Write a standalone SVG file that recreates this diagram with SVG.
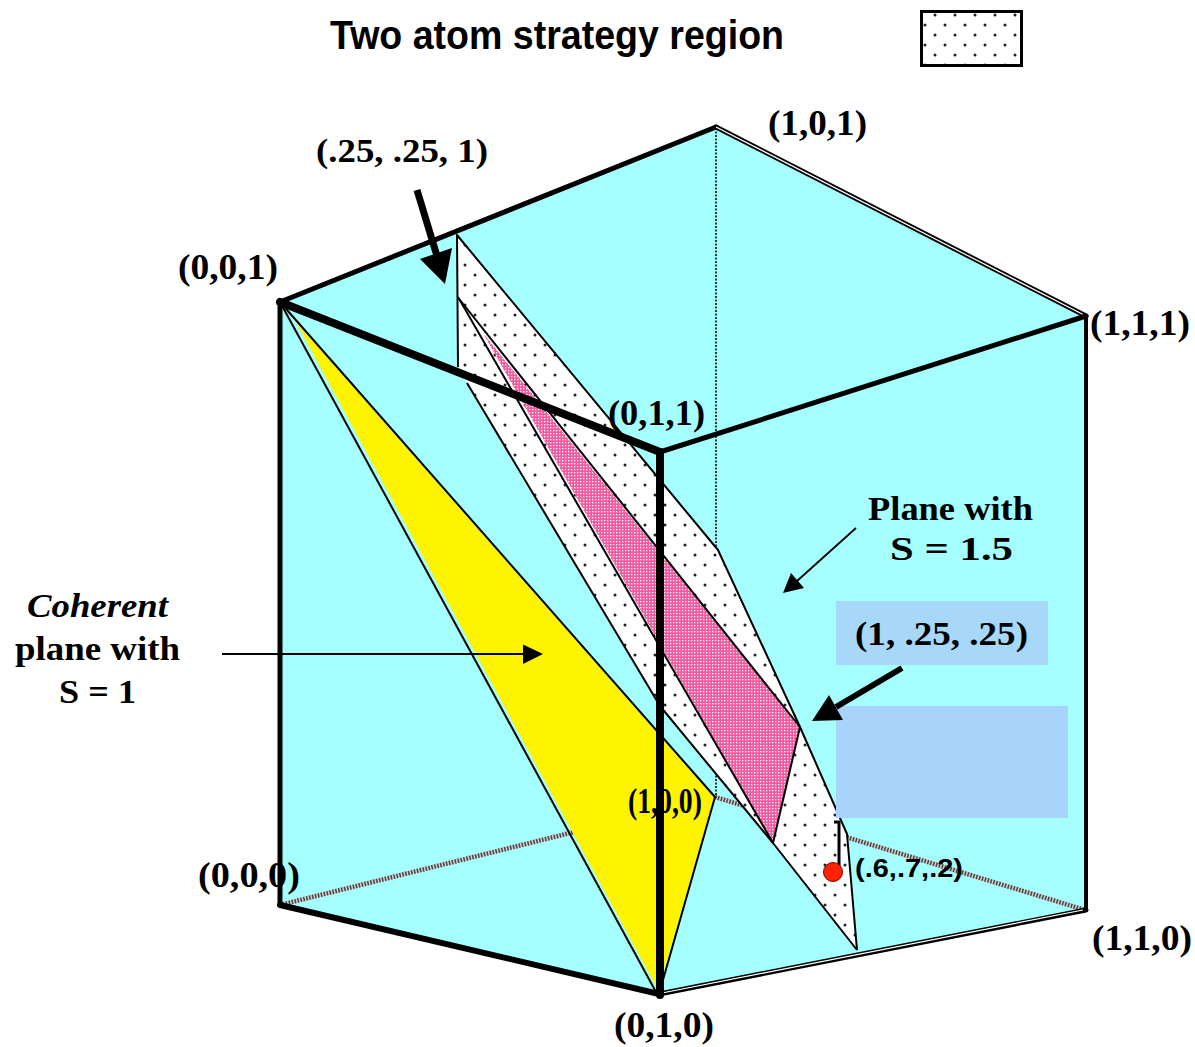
<svg xmlns="http://www.w3.org/2000/svg" width="1195" height="1047" viewBox="0 0 1195 1047">
<defs>
<pattern id="dots" width="20" height="20" patternUnits="userSpaceOnUse">
<rect width="20" height="20" fill="#fff"/>
<circle cx="5" cy="5" r="1.5" fill="#222"/>
<circle cx="15" cy="15" r="1.5" fill="#222"/>
</pattern>
<pattern id="pinkdots" width="3" height="3" patternUnits="userSpaceOnUse">
<rect width="3" height="3" fill="#F2599F"/>
<rect x="1" y="1" width="1.3" height="1.3" fill="#fff"/>
</pattern>
<style>
.thin{stroke:#000;stroke-width:2;fill:none;stroke-linejoin:round}
.edge{stroke:#000;fill:none;stroke-linecap:round}
.hidA{stroke:#d0d0d0;stroke-width:4.5;fill:none}
.hidB{stroke:#444;stroke-width:4.5;stroke-dasharray:1.5 1.5;fill:none}
.coord{font-family:"Liberation Serif","Times New Roman",serif;font-weight:bold;font-size:36px;fill:#000}
.lab{font-family:"Liberation Serif","Times New Roman",serif;font-weight:bold;font-size:33px;fill:#000}
.arrowT{stroke:#000;fill:none}
</style>
</defs>
<rect width="1195" height="1047" fill="#fff"/>

<g id="legend">
<text x="330" y="49" font-family="Liberation Sans, Arial, sans-serif" font-weight="bold" font-size="41" textLength="454" lengthAdjust="spacingAndGlyphs">Two atom strategy region</text>
<rect x="921.5" y="11.5" width="100" height="54" fill="url(#dots)" stroke="#000" stroke-width="3"/>
</g>

<g id="cube-faces">
<polygon points="280,302 716,127 1086,316 1086,910 659,994 280,905" fill="#A5FFFF"/>
</g>

<g id="hidden-edges">
<line class="hidA" x1="280" y1="905" x2="715" y2="797"/>
<line class="hidB" x1="280" y1="905" x2="715" y2="797"/>
<line class="hidA" x1="715" y1="797" x2="1085" y2="910"/>
<line class="hidB" x1="715" y1="797" x2="1085" y2="910"/>
<line x1="716" y1="128" x2="716" y2="798" stroke="#222" stroke-width="1.8" stroke-dasharray="2 1.5"/>
</g>

<g id="coherent-plane">
<polygon points="293,317 715,797 658,990" fill="#FFF400"/>
<line class="thin" x1="280" y1="302" x2="656" y2="992"/>
<line class="thin" x1="280" y1="302" x2="715" y2="797"/>
<line class="thin" x1="715" y1="797" x2="659" y2="994"/>
</g>

<g id="two-atom-region">
<polygon points="457,235 718,550 800,727 847,834 857,950 773,843 660,706 467,383 458,367" fill="url(#dots)"/>
<polygon points="483,333 800,727 773,843" fill="url(#pinkdots)"/>
<polyline class="thin" points="458,367 457,235 718,550 800,727 847,834 857,950"/>
<polyline class="thin" points="467,383 660,706 773,843 857,950"/>
<line class="thin" x1="458" y1="297" x2="773" y2="843"/>
<line class="thin" x1="460" y1="300" x2="800" y2="727"/>
<line class="thin" x1="800" y1="727" x2="773" y2="843"/>
</g>

<g id="label-100">
<text x="628" y="813" class="coord" font-size="28" textLength="74" lengthAdjust="spacingAndGlyphs">(1,0,0)</text>
</g>

<g id="cube-edges">
<line class="edge" x1="280" y1="302" x2="716" y2="127" stroke-width="5"/>
<line class="edge" x1="716" y1="127" x2="1086" y2="316" stroke-width="5"/>
<line x1="716" y1="127" x2="1086" y2="316" stroke="#fff" stroke-width="1.2"/>
<line class="edge" x1="1086" y1="316" x2="660" y2="452" stroke-width="5"/>
<line class="edge" x1="1086" y1="316" x2="1086" y2="910" stroke-width="4"/>
<line class="edge" x1="280" y1="302" x2="280" y2="905" stroke-width="5"/>
<line class="edge" x1="280" y1="905" x2="659" y2="994" stroke-width="6"/>
<line class="edge" x1="659" y1="994" x2="1086" y2="910" stroke-width="5"/>
<line x1="662" y1="993" x2="1083" y2="910" stroke="#fff" stroke-width="1.2"/>
<line class="edge" x1="280" y1="302" x2="660" y2="452" stroke-width="8"/>
<line class="edge" x1="660" y1="452" x2="660" y2="995" stroke-width="8"/>
</g>

<g id="boxes">
<rect x="836" y="601" width="212" height="64" fill="#A8D8F9"/>
<rect x="836" y="706" width="232" height="112" fill="#A8D4FB"/>
</g>

<g id="point">
<polyline points="834,822 839,822 839,866" fill="none" stroke="#000" stroke-width="3"/>
<circle cx="833" cy="872" r="9.5" fill="#FF2200" stroke="#7a0000" stroke-width="1"/>
<text x="855" y="877" font-family="Liberation Sans, Arial, sans-serif" font-weight="bold" font-size="26" textLength="108" lengthAdjust="spacingAndGlyphs">(.6,.7,.2)</text>
</g>

<g id="connectors">
<line x1="417" y1="190" x2="437" y2="256" stroke="#000" stroke-width="7"/>
<polygon points="420,259 452,248 445,284" fill="#000"/>
<line x1="902" y1="668" x2="836" y2="707" stroke="#000" stroke-width="6"/>
<polygon points="843,720 829,695 812,721" fill="#000"/>
<line class="arrowT" x1="856" y1="528" x2="797" y2="581" stroke-width="1.8"/>
<polygon points="804,588 791,573 783,593" fill="#000"/>
<line class="arrowT" x1="222" y1="654" x2="526" y2="654" stroke-width="1.8"/>
<polygon points="543,654 523,644.5 523,664" fill="#000"/>
</g>

<g id="labels">
<text x="316" y="162" class="lab" font-size="34" textLength="172" lengthAdjust="spacingAndGlyphs">(.25, .25, 1)</text>
<text x="768" y="135" class="coord" textLength="99" lengthAdjust="spacingAndGlyphs">(1,0,1)</text>
<text x="178" y="279" class="coord" textLength="100" lengthAdjust="spacingAndGlyphs">(0,0,1)</text>
<text x="1090" y="335" class="coord" textLength="100" lengthAdjust="spacingAndGlyphs">(1,1,1)</text>
<text x="608" y="425" class="coord" textLength="97" lengthAdjust="spacingAndGlyphs">(0,1,1)</text>
<text x="868" y="520" class="lab" textLength="165" lengthAdjust="spacingAndGlyphs">Plane with</text>
<text x="890" y="560" class="lab" textLength="123" lengthAdjust="spacingAndGlyphs">S = 1.5</text>
<text x="855" y="645" class="lab" textLength="173" lengthAdjust="spacingAndGlyphs">(1, .25, .25)</text>
<text x="27" y="617" class="lab" font-style="italic" textLength="141" lengthAdjust="spacingAndGlyphs">Coherent</text>
<text x="15" y="660" class="lab" textLength="165" lengthAdjust="spacingAndGlyphs">plane with</text>
<text x="59" y="703" class="lab" textLength="77" lengthAdjust="spacingAndGlyphs">S = 1</text>
<text x="198" y="887" class="coord" textLength="102" lengthAdjust="spacingAndGlyphs">(0,0,0)</text>
<text x="1092" y="950" class="coord" textLength="100" lengthAdjust="spacingAndGlyphs">(1,1,0)</text>
<text x="614" y="1037" class="coord" textLength="100" lengthAdjust="spacingAndGlyphs">(0,1,0)</text>
</g>
</svg>
